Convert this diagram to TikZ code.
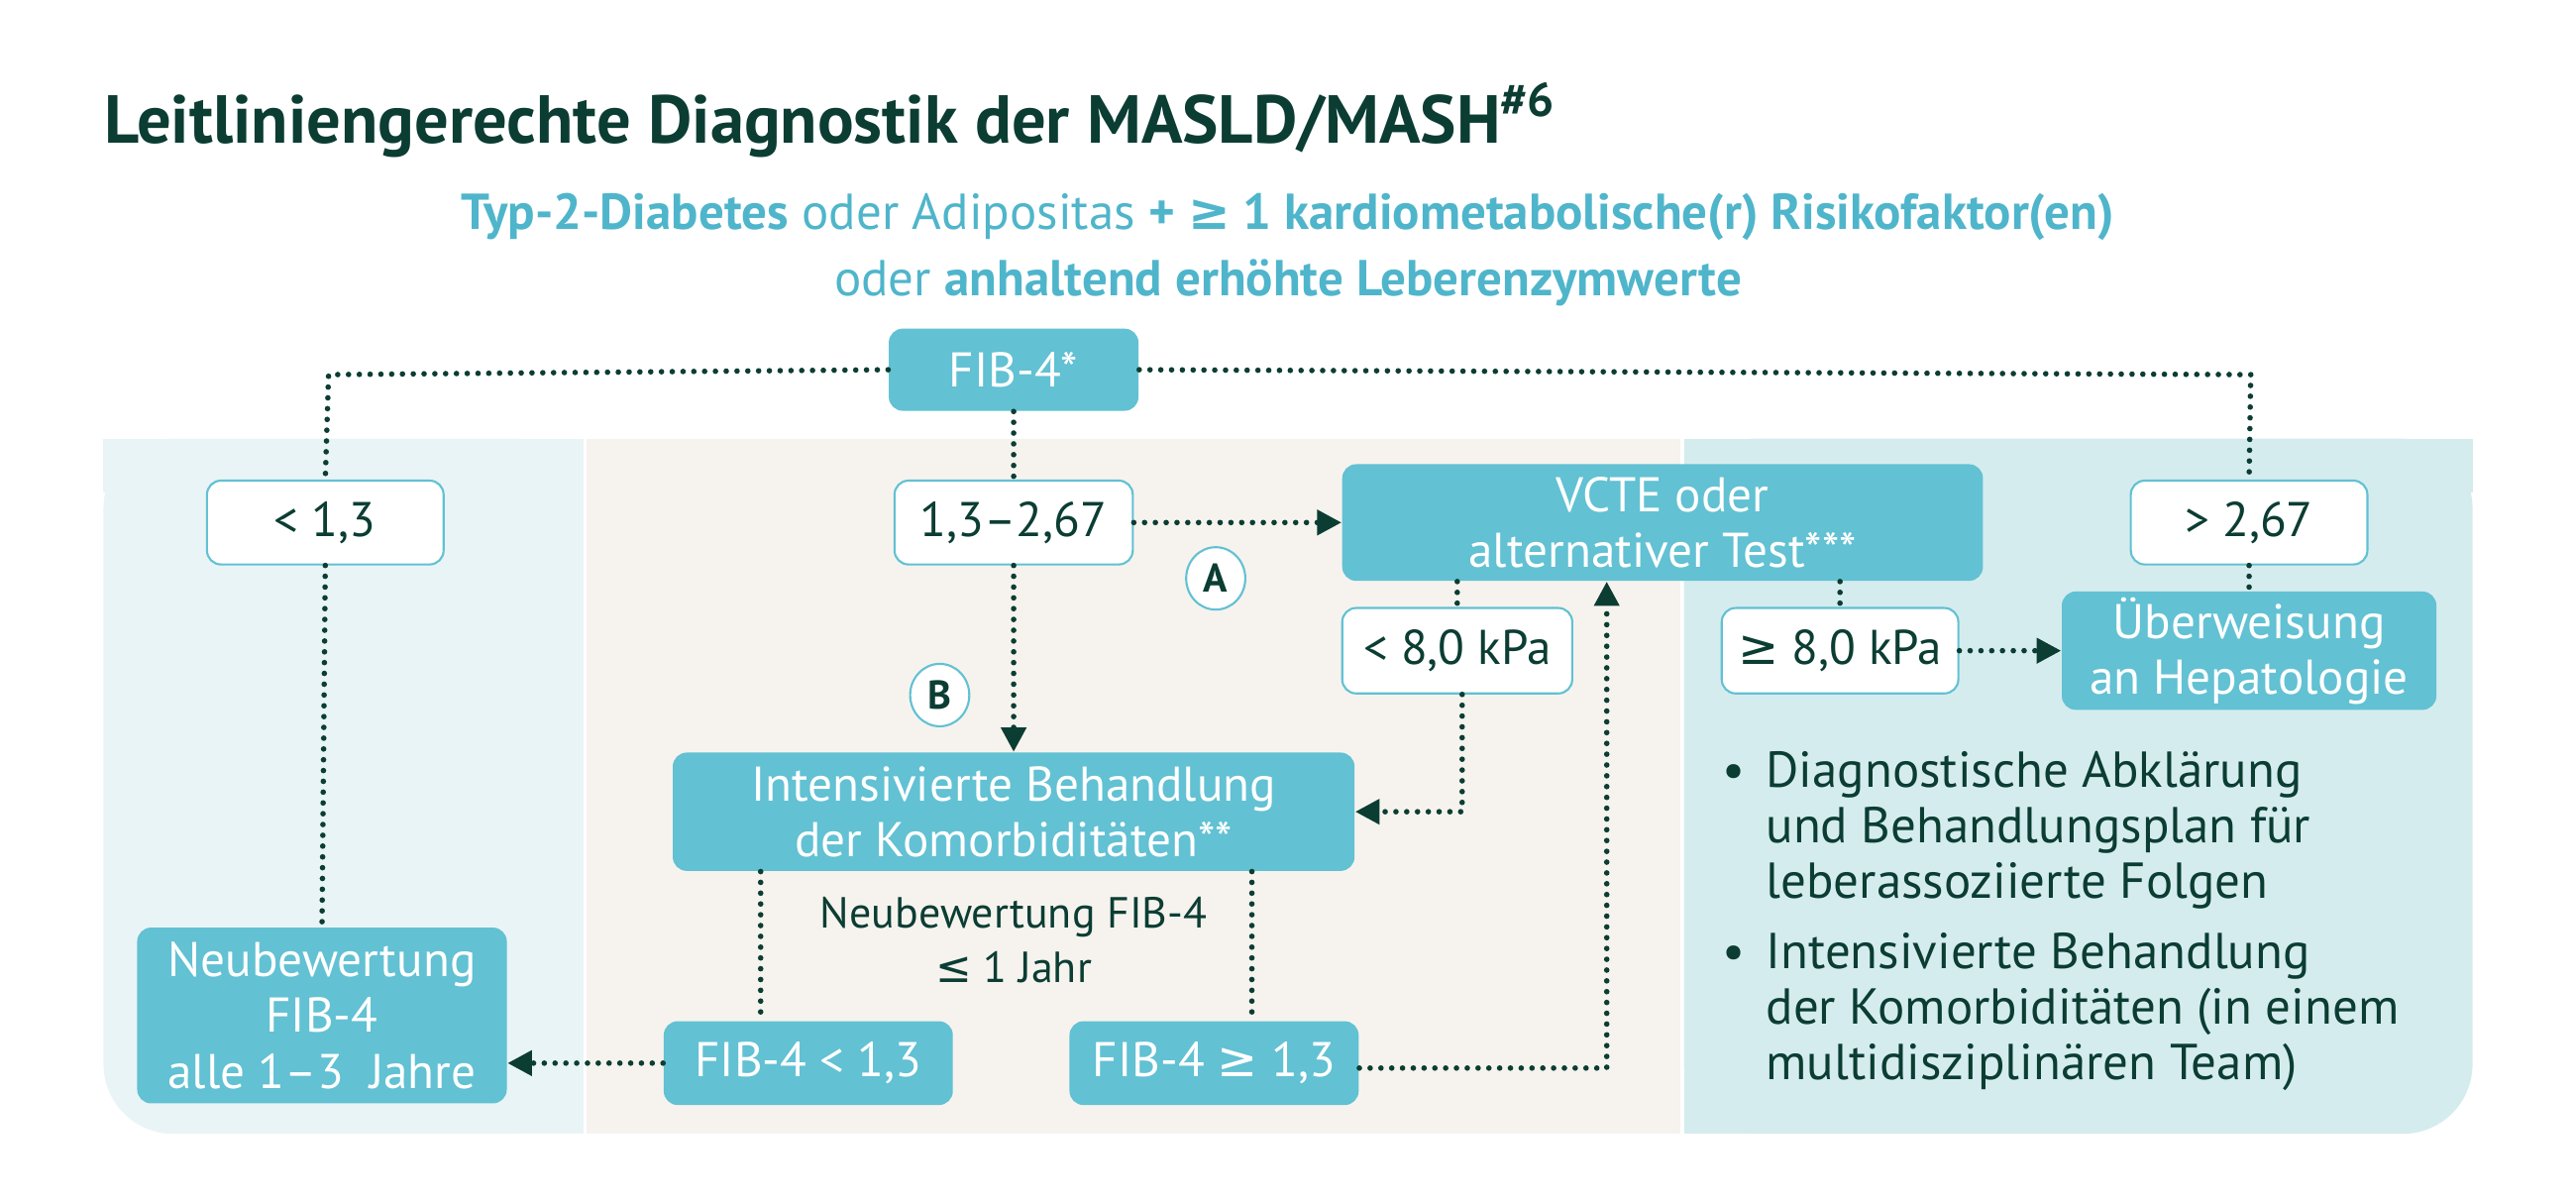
\documentclass[tikz,border=0pt]{standalone}
\usepackage{fontspec}
\setmainfont{PT Sans}
\newfontfamily\symf{DejaVu Sans}
\usetikzlibrary{arrows.meta,positioning,shapes.geometric}
\definecolor{dk}{HTML}{0B3D33}
\definecolor{cy}{HTML}{62C1D3}
\definecolor{cyt}{HTML}{4FB5CB}
\definecolor{pl}{HTML}{E9F4F6}
\definecolor{pm}{HTML}{F6F3EE}
\definecolor{pr}{HTML}{D5ECEE}
\def\px{0.016582cm}
\tikzset{
 fbox/.style={fill=cy,rounded corners=4pt,text=white,align=center,font=\fontsize{14}{16}\selectfont,inner sep=0pt},
 wbox/.style={fill=white,draw=cy,line width=0.6pt,rounded corners=4pt,text=dk,align=center,font=\fontsize{14}{16}\selectfont,inner sep=0pt},
 circ/.style={ellipse,fill=white,draw=cy,line width=0.6pt,text=dk,font=\bfseries\fontsize{11.5}{13}\selectfont,minimum width=36*\px,minimum height=38*\px,inner sep=0pt},
 dl/.style={draw=dk,line width=1.6pt,dash pattern=on 0pt off 3.1pt,line cap=round},
 ar/.style={dl,-{Triangle[width=7pt,length=7pt,line cap=butt,fill=dk]}},
}
\begin{document}
\begin{tikzpicture}[x=\px,y=-\px]
\useasboundingbox (0,0) rectangle (1568,732);
\fill[white] (0,0) rectangle (1568,732);
% panels
\fill[pl,rounded corners=20pt] (63,267) -- (63,690) -- (355,690) -- (355,267) -- cycle;
\fill[pl] (63,267) rectangle (120,300);
\fill[pl] (300,267) rectangle (355,690);
\fill[pm] (357,267) rectangle (1023,690);
\fill[pr,rounded corners=20pt] (1025,267) -- (1025,690) -- (1505,690) -- (1505,267) -- cycle;
\fill[pr] (1025,267) rectangle (1100,690);
\fill[pr] (1025,267) rectangle (1505,300);
% title
\node[anchor=base west,text=dk,font=\bfseries\fontsize{19.5}{22}\selectfont,inner sep=0pt] (title) at (63,87) {Leitliniengerechte Diagnostik der MASLD/MASH\textsuperscript{\#6}};
\node[text=cyt,font=\fontsize{14.5}{19}\selectfont,align=center] (sub) at (784,152) {\textbf{Typ-2-Diabetes} oder Adipositas \textbf{+ {\symf\bfseries ≥} 1 kardiometabolische(r) Risikofaktor(en)}\\oder \textbf{anhaltend erhöhte Leberenzymwerte}};
% nodes
\node[fbox,minimum width=152*\px,minimum height=50*\px] (fib) at (617,225) {FIB-4*};
\node[wbox,minimum width=144*\px,minimum height=51*\px] (lt) at (198,318) {< 1,3};
\node[wbox,minimum width=145*\px,minimum height=51*\px] (mid) at (617,318) {1,3–2,67};
\node[wbox,minimum width=144*\px,minimum height=51*\px] (gt) at (1369,318) {> 2,67};
\node[fbox,minimum width=390*\px,minimum height=71*\px] (vcte) at (1012,318) {VCTE oder\\alternativer Test***};
\node[wbox,minimum width=140*\px,minimum height=52*\px] (k8l) at (887,396) {< 8,0 kPa};
\node[wbox,minimum width=144*\px,minimum height=52*\px] (k8g) at (1120,396) {{\symf ≥} 8,0 kPa};
\node[fbox,minimum width=228*\px,minimum height=72*\px] (ueb) at (1369,396) {Überweisung\\an Hepatologie};
\node[fbox,minimum width=415*\px,minimum height=72*\px] (int) at (617,494) {Intensivierte Behandlung\\der Komorbiditäten**};
\node[fbox,minimum width=225*\px,minimum height=107*\px] (neu) at (196,618) {Neubewertung\\FIB-4\\alle 1–3\ \ Jahre};
\node[fbox,minimum width=176*\px,minimum height=51*\px] (fl) at (492,647) {FIB-4 < 1,3};
\node[fbox,minimum width=176*\px,minimum height=51*\px] (fg) at (739,647) {FIB-4 {\symf ≥} 1,3};
\node[circ] (A) at (740,352) {A};
\node[circ] (B) at (572,423) {B};
\node[text=dk,align=center,font=\fontsize{12.5}{15.5}\selectfont] (nb) at (617,572) {Neubewertung FIB-4\\{\symf ≤} 1 Jahr};
\node[text=dk,anchor=north west,align=left,font=\fontsize{14.5}{16}\selectfont,inner sep=0pt] (bul) at (1048,455) {%
\begin{tabular}{@{}l@{\hspace{6pt}}l@{}}
•& Diagnostische Abklärung\\
 & und Behandlungsplan für\\
 & leberassoziierte Folgen\\[4pt]
•& Intensivierte Behandlung\\
 & der Komorbiditäten (in einem\\
 & multidisziplinären Team)
\end{tabular}};
% connectors
\coordinate (c1) at (200,228);
\coordinate (c2) at (1370,228);
\draw[dl] (fib.west) -- (c1) -- (lt.north);
\draw[dl] (fib.east) -- (c2) -- (gt.north);
\draw[dl] (fib.south) -- (mid.north);
\draw[dl] (lt.south) -- (neu.north);
\draw[ar] (mid.east) -- (vcte.west |- mid.east);
\draw[ar] (mid.south) -- (int.north);
\draw[dl] (vcte.south -| k8l.north) -- (k8l.north);
\coordinate (c3) at (890,494);
\draw[ar] (k8l.south -| c3) -- (c3) -- (int.east);
\draw[dl] (vcte.south -| k8g.north) -- (k8g.north);
\draw[ar] (k8g.east) -- (ueb.west |- k8g.east);
\draw[dl] (gt.south) -- (ueb.north);
\draw[dl] (int.south -| 463,0) -- (fl.north -| 463,0);
\draw[dl] (int.south -| 762,0) -- (fg.north -| 762,0);
\draw[ar] (fl.west) -- (neu.east |- fl.west);
\coordinate (c4) at (978,650);
\draw[ar] (fg.east |- c4) -- (c4) -- (vcte.south -| c4);
\end{tikzpicture}
\end{document}
